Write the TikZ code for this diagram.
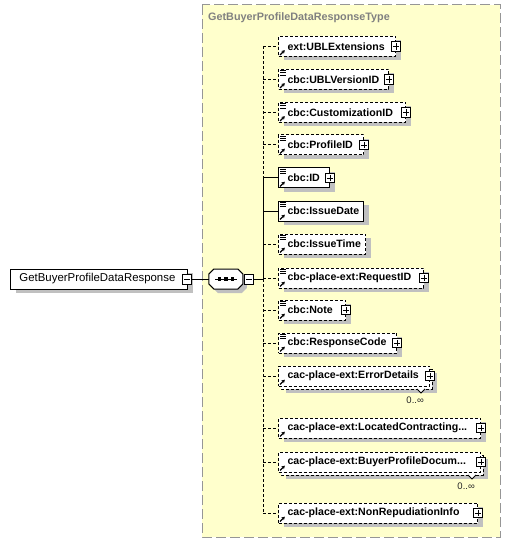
\documentclass[tikz,border=0pt]{standalone}
\usepackage{fontspec}
\setmainfont{Liberation Sans}
\usetikzlibrary{shadows,arrows.meta}
\definecolor{bgyellow}{RGB}{255,255,204}
\definecolor{shadowgray}{RGB}{192,192,192}
\definecolor{framegray}{RGB}{150,150,150}
\definecolor{titlegray}{RGB}{128,128,128}
\tikzset{
  elbox/.style={draw=black, fill=white, line width=1pt, rectangle, minimum height=20pt,
    inner xsep=0pt, inner ysep=0pt, anchor=west,
    font=\fontsize{10.6}{12}\selectfont\bfseries},
  withshadow/.style={drop shadow={shadow xshift=5pt, shadow yshift=-4pt, fill=shadowgray, opacity=1}},
  optional/.style={dash pattern=on 3pt off 2pt},
  conn/.style={line width=1pt},
  plusbox/.style={draw, fill=white, line width=0.9pt, minimum size=9.5pt, inner sep=0pt,
    path picture={\draw[line width=0.9pt]
      ([xshift=-3.2pt]path picture bounding box.center) -- ([xshift=3.2pt]path picture bounding box.center)
      ([yshift=-3.2pt]path picture bounding box.center) -- ([yshift=3.2pt]path picture bounding box.center);}},
  minusbox/.style={draw, fill=white, line width=0.9pt, minimum width=9pt, minimum height=10pt, inner sep=0pt,
    path picture={\draw[line width=0.9pt]
      ([xshift=-3pt]path picture bounding box.center) -- ([xshift=3pt]path picture bounding box.center);}},
  multlabel/.style={font=\fontsize{9.5}{10}\selectfont, text=black!85, inner sep=0pt, anchor=east},
}
% #1 name, #2 center y, #3 right x, #4 label, #5 extra style
\newcommand\xelem[5]{%
  \node[elbox,#5] (#1) at (278,#2) {\makebox[\dimexpr#3pt-278pt\relax][l]{\hspace*{9pt}#4}};
}
\newcommand\xlines[1]{%
  \draw[line width=0.9pt] ([xshift=2pt,yshift=-1.8pt]#1.north west) -- ++(5.5,0)
    ([xshift=2pt,yshift=-3.9pt]#1.north west) -- ++(5.5,0)
    ([xshift=2pt,yshift=-6pt]#1.north west) -- ++(5.5,0);
}
\newcommand\xarrow[1]{%
  \draw[line width=1.1pt, -{Stealth[length=3.2pt,width=3.8pt]}] ([xshift=2pt,yshift=2pt]#1.south west) -- ++(4.8,-4.8);
}
\newcommand\xplus[1]{\node[plusbox] (#1p) at (#1.east) {};}
% back copy for multiple occurrence: #1 center y, #2 right x
\newcommand\xback[2]{%
  \fill[shadowgray] (286,#1-3) rectangle (#2+8,#1+17);
  \draw[line width=1pt, optional, fill=white] (281,#1-7) rectangle (#2+3,#1+13);
}
\newcommand\xmult[3]{% #1 name, #2 center y, #3 right x
  \draw[line width=0.8pt, fill=white] (#3-12,#2+13) -- (#3-8,#2+17) -- (#3-4,#2+13);
  \node[multlabel] (#1m) at (#3-5,#2+24) {0..∞};
}
\begin{document}
\begin{tikzpicture}[x=1pt,y=-1pt]
\useasboundingbox (0,0) rectangle (511,545);
% type frame
\draw[framegray, dash pattern=on 10pt off 4pt, fill=bgyellow, line width=1pt] (202,5) rectangle (500,537);
\node[anchor=west, text=titlegray, inner sep=0pt, font=\fontsize{10.8}{12}\selectfont\bfseries] (title) at (208,17.5) {GetBuyerProfileDataResponseType};

% root element
\node[elbox, withshadow, font=\fontsize{11.4}{13}\selectfont] (root) at (10,279) {\makebox[177pt][l]{\hspace*{9pt}GetBuyerProfileDataResponse}};
\node[minusbox] (rootm) at ([xshift=-1pt]root.east) {};

% sequence compositor
\node[rectangle, minimum width=34pt, minimum height=20pt, inner sep=0pt] (seq) at (226,279) {};
\fill[shadowgray] ([shift={(4,4)}]seq.west) ++(0,-5) -- ++(5,-5) -- ++(24,0) -- ++(5,5) -- ++(0,10)
  -- ++(-5,5) -- ++(-24,0) -- ++(-5,-5) -- cycle;
\draw[line width=1pt, fill=white] (seq.west) ++(0,-5) -- ++(5,-5) -- ++(24,0) -- ++(5,5) -- ++(0,10)
  -- ++(-5,5) -- ++(-24,0) -- ++(-5,-5) -- cycle;
\draw[line width=1pt] ([xshift=-11pt]seq.center) -- ([xshift=11pt]seq.center);
\fill ([xshift=-6.5pt]seq.center) ++(-1.7,-1.7) rectangle ++(3.4,3.4);
\fill (seq.center) ++(-1.7,-1.7) rectangle ++(3.4,3.4);
\fill ([xshift=6.5pt]seq.center) ++(-1.7,-1.7) rectangle ++(3.4,3.4);
\node[minusbox] (seqm) at (249,279) {};
\coordinate (J) at (263,279);
\draw[conn] (rootm.east) -- (seq.west);
\draw[conn] (seqm.east) -- (J);

% elements
\xelem{e1}{46.5}{395}{ext:UBLExtensions}{withshadow,optional}
\xarrow{e1}\xplus{e1}
\xelem{e2}{79.5}{388}{cbc:UBLVersionID}{withshadow,optional}
\xlines{e2}\xarrow{e2}\xplus{e2}
\xelem{e3}{112.5}{405}{cbc:CustomizationID}{withshadow,optional}
\xlines{e3}\xarrow{e3}\xplus{e3}
\xelem{e4}{145}{363}{cbc:ProfileID}{withshadow,optional}
\xlines{e4}\xarrow{e4}\xplus{e4}
\xelem{e5}{178}{329}{cbc:ID}{withshadow}
\xlines{e5}\xarrow{e5}\xplus{e5}
\xelem{e6}{211}{363}{cbc:IssueDate}{withshadow}
\xlines{e6}\xarrow{e6}
\xelem{e7}{244}{365}{cbc:IssueTime}{withshadow,optional}
\xlines{e7}\xarrow{e7}
\xelem{e8}{278}{423}{cbc-place-ext:RequestID}{withshadow,optional}
\xlines{e8}\xarrow{e8}\xplus{e8}
\xelem{e9}{310}{345}{cbc:Note}{withshadow,optional}
\xlines{e9}\xarrow{e9}\xplus{e9}
\xelem{e10}{343}{396}{cbc:ResponseCode}{withshadow,optional}
\xlines{e10}\xarrow{e10}\xplus{e10}
\xback{376}{429}
\xelem{e11}{376}{429}{cac-place-ext:ErrorDetails}{optional}
\xarrow{e11}\xplus{e11}\xmult{e11}{376}{429}
\xelem{e12}{428}{480}{cac-place-ext:LocatedContracting...}{withshadow,optional}
\xarrow{e12}\xplus{e12}
\xback{462}{480}
\xelem{e13}{462}{480}{cac-place-ext:BuyerProfileDocum...}{optional}
\xarrow{e13}\xplus{e13}\xmult{e13}{462}{480}
\xelem{e14}{513}{477}{cac-place-ext:NonRepudiationInfo}{withshadow,optional}
\xarrow{e14}\xplus{e14}

% connectors
\draw[conn,optional] (e1.west -| J) -- (e5.west -| J);
\draw[conn] (e5.west -| J) -- (J);
\draw[conn,optional] (J) -- (e14.west -| J);
\foreach \n in {e1,e2,e3,e4,e7,e8,e9,e10,e11,e12,e13,e14}{
  \draw[conn,optional] (\n.west -| J) -- (\n.west);
}
\foreach \n in {e5,e6}{
  \draw[conn] (\n.west -| J) -- (\n.west);
}
\end{tikzpicture}
\end{document}
